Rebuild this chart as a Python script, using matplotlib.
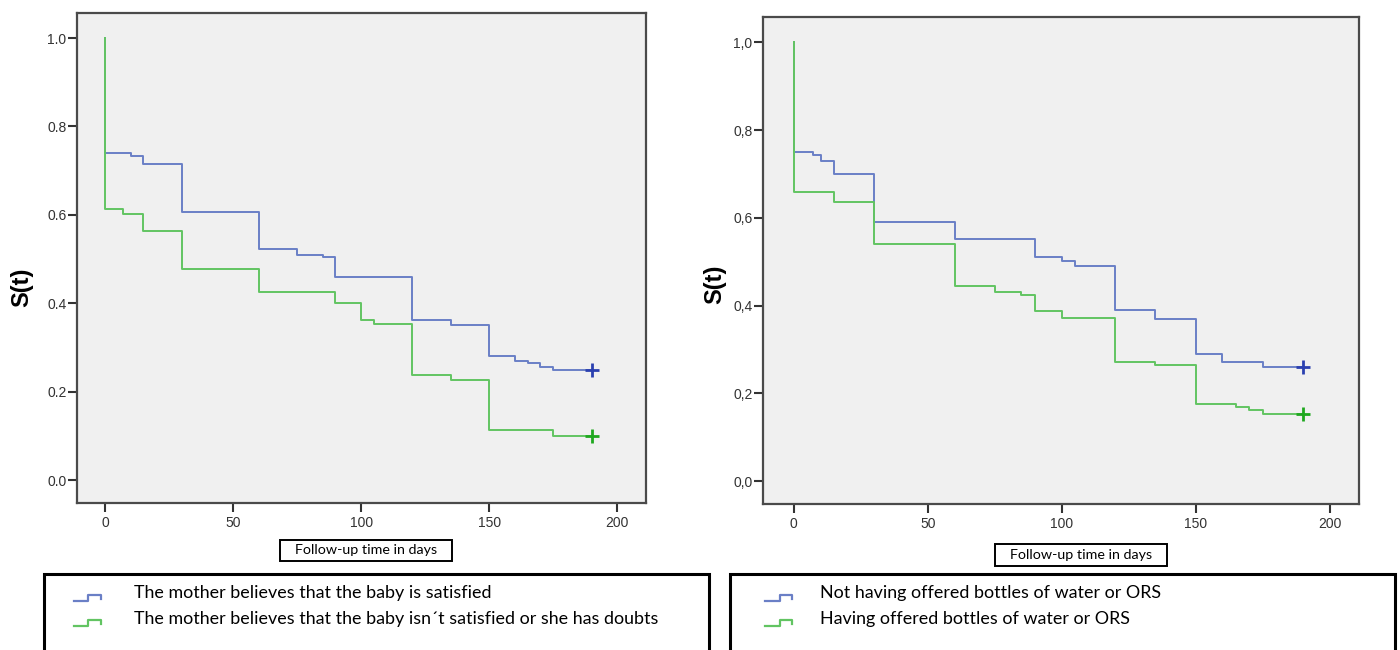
import numpy as np
import matplotlib.pyplot as plt
from matplotlib.patches import Rectangle
from matplotlib.lines import Line2D

plt.rcParams['font.family'] = ['Liberation Sans', 'DejaVu Sans']

# ---- data (Kaplan-Meier steps) ----
# left panel
t_sat = [0, 0, 10, 15, 30, 60, 75, 85, 90, 120, 135, 150, 160, 165, 170, 175, 190]
s_sat = [1.0, 0.740, 0.734, 0.714, 0.606, 0.523, 0.510, 0.504, 0.460, 0.363, 0.351,
         0.281, 0.269, 0.264, 0.256, 0.250, 0.250]
t_doubt = [0, 0, 7, 15, 30, 60, 90, 100, 105, 120, 135, 150, 175, 190]
s_doubt = [1.0, 0.614, 0.602, 0.564, 0.477, 0.426, 0.401, 0.363, 0.352, 0.238, 0.226,
           0.114, 0.100, 0.100]

# right panel
t_nobottle = [0, 0, 7, 10, 15, 30, 60, 90, 100, 105, 120, 135, 150, 160, 175, 190]
s_nobottle = [1.0, 0.751, 0.743, 0.730, 0.701, 0.591, 0.551, 0.511, 0.501, 0.491, 0.391,
              0.370, 0.291, 0.271, 0.260, 0.260]
t_bottle = [0, 0, 15, 30, 60, 75, 85, 90, 100, 120, 135, 150, 165, 170, 175, 190]
s_bottle = [1.0, 0.658, 0.636, 0.541, 0.446, 0.431, 0.424, 0.388, 0.373, 0.271, 0.264,
            0.176, 0.169, 0.162, 0.153, 0.153]

censor_time = 190

labels_left = ['The mother believes that the baby is satisfied',
               'The mother believes that the baby isn\u00b4t satisfied or she has doubts']
labels_right = ['Not having offered bottles of water or ORS',
                'Having offered bottles of water or ORS']

yticks = [0.0, 0.2, 0.4, 0.6, 0.8, 1.0]
xticks = [0, 50, 100, 150, 200]
ylab_left = ['0.0', '0.2', '0.4', '0.6', '0.8', '1.0']
ylab_right = ['0,0', '0,2', '0,4', '0,6', '0,8', '1,0']

blue = '#6a7fc6'
green = '#62c462'
blue_c = '#2b40b0'
green_c = '#1fa81f'

W, H = 1400, 650
fig = plt.figure(figsize=(14, 6.5), dpi=100)


def px(x0, y0, x1, y1):
    # pixel box (top-left origin) -> figure fraction rect
    return [x0 / W, 1 - y1 / H, (x1 - x0) / W, (y1 - y0) / H]


def km_panel(rect, xlim, ylim, tA, sA, tB, sB, ylabs, ylab_pos):
    ax = fig.add_axes(rect)
    ax.set_facecolor('#f0f0f0')
    ax.step(tA, sA, where='post', color=blue, lw=1.4)
    ax.step(tB, sB, where='post', color=green, lw=1.4)
    ax.plot([censor_time], [sA[-1]], '+', color=blue_c, ms=10, mew=2)
    ax.plot([censor_time], [sB[-1]], '+', color=green_c, ms=10, mew=2)
    ax.set_xlim(xlim)
    ax.set_ylim(ylim)
    ax.set_xticks(xticks)
    ax.set_yticks(yticks)
    ax.set_yticklabels(ylabs)
    for sp in ax.spines.values():
        sp.set_color('#4a4a4a')
        sp.set_linewidth(1.6)
    ax.tick_params(direction='out', length=6.5, width=1.5, color='#333333',
                   labelsize=10, labelcolor='#333333', pad=1)
    ax.tick_params(axis='x', pad=3)
    ax.set_ylabel('S(t)', fontsize=17, fontweight='bold')
    ax.yaxis.set_label_coords(*ylab_pos)
    return ax


km_panel(px(77, 13, 646, 503), (-10.9, 211.2), (-0.052, 1.0566),
         t_sat, s_sat, t_doubt, s_doubt, ylab_left, (-0.077, 0.44))
km_panel(px(763, 17, 1359, 504), (-11.5, 211.0), (-0.052, 1.058),
         t_nobottle, s_nobottle, t_bottle, s_bottle, ylab_right, (-0.062, 0.452))


def fig_box(x0, y0, x1, y1, lw):
    r = px(x0, y0, x1, y1)
    fig.patches.append(Rectangle((r[0], r[1]), r[2], r[3], transform=fig.transFigure,
                                 fill=False, edgecolor='black', lw=lw))


def fig_txt(x, y, s, size):
    fig.text(x / W, 1 - y / H, s, fontsize=size, family='Lato',
             va='center', ha='left', color='black')


# x-axis title boxes
fig_box(280, 540, 452, 561, 1.4)
fig.text(366 / W, 1 - 550.5 / H, 'Follow-up time in days', fontsize=10.3, family='Lato',
         ha='center', va='center')
fig_box(995, 544, 1167, 566, 1.4)
fig.text(1081 / W, 1 - 555 / H, 'Follow-up time in days', fontsize=10.3, family='Lato',
         ha='center', va='center')

# legend boxes
fig_box(44, 574, 709, 660, 2.2)
fig_box(730, 574, 1395, 660, 2.2)


def legend_icon(x0, ybase, color):
    xs = np.array([x0, x0 + 15, x0 + 15, x0 + 27.5, x0 + 27.5])
    ys = np.array([ybase, ybase, ybase - 6, ybase - 6, ybase - 2])
    fig.lines.append(Line2D(xs / W, 1 - ys / H, transform=fig.transFigure,
                            color=color, lw=1.6))


for i, (lab, col) in enumerate(zip(labels_left, [blue, green])):
    legend_icon(73.5, 601 + 25 * i, col)
    fig_txt(134, 593 + 26 * i, lab, 12.9)

for i, (lab, col) in enumerate(zip(labels_right, [blue, green])):
    legend_icon(764.5, 601 + 25 * i, col)
    fig_txt(820, 593 + 26 * i, lab, 12.9)

fig.savefig('out.png', dpi=100, facecolor='white')
